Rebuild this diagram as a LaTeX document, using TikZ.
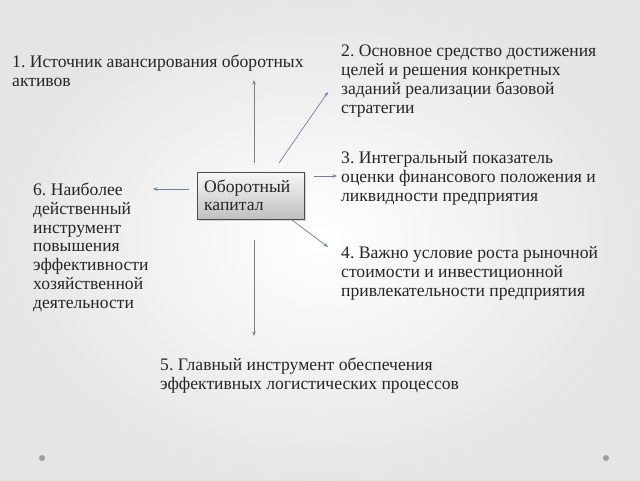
\documentclass[tikz,border=0pt]{standalone}
\usepackage{fontspec}
\setmainfont{Liberation Serif}
\frenchspacing
\usetikzlibrary{arrows.meta,shadows}
\definecolor{arrowc}{HTML}{6F7FA6}
\definecolor{txt}{HTML}{262626}
\tikzset{
  lbl/.style={anchor=base west, inner sep=0pt, align=left, text=txt,
    font=\fontsize{17.6}{18.7}\selectfont\frenchspacing},
  conn/.style={draw=arrowc, line width=0.7pt, -{Stealth[length=4.5pt,width=3.5pt]}},
  centerbox/.style={draw=gray!60!black, line width=0.8pt, top color=gray!6, bottom color=gray!50,
    minimum width=107pt, minimum height=47pt, inner sep=0pt,
    drop shadow={shadow xshift=2pt, shadow yshift=-2pt, opacity=0.3}},
  dot/.style={circle, fill=gray!75, inner sep=0pt, minimum size=6pt}
}
\begin{document}
\begin{tikzpicture}[x=1pt,y=-1pt]
\shade[inner color=white, outer color=gray!20] (0,0) rectangle (640,480);
\useasboundingbox (0,0) rectangle (640,480);
% center box
\node[centerbox] (box) at (250.5,195.5) {};
\node[lbl, font=\fontsize{17.6}{17.5}\selectfont] (boxtxt) at (204,210) {Оборотный\\капитал};
% labels (anchor at last line's baseline)
\node[lbl] (t1) at (12,86) {1. Источник авансирования оборотных\\активов};
\node[lbl] (t2) at (341,113) {2. Основное средство достижения\\целей и решения конкретных\\заданий реализации базовой\\стратегии};
\node[lbl] (t3) at (341,201) {3. Интегральный показатель\\оценки финансового положения и\\ликвидности предприятия};
\node[lbl] (t4) at (341,296) {4. Важно условие роста рыночной\\стоимости и инвестиционной\\привлекательности предприятия};
\node[lbl] (t5) at (160,389) {5. Главный инструмент обеспечения\\эффективных логистических процессов};
\node[lbl] (t6) at (33,308) {6. Наиболее\\действенный\\инструмент\\повышения\\эффективности\\хозяйственной\\деятельности};
% connector endpoints
\coordinate (uS) at (254,163); \coordinate (uE) at (254,80);
\coordinate (dS) at (279,163); \coordinate (dE) at (328,92);
\coordinate (rS) at (314,176); \coordinate (rE) at (337,176);
\coordinate (drS) at (292,220); \coordinate (drE) at (328,247);
\coordinate (bS) at (254,240); \coordinate (bE) at (254,336);
\coordinate (lS) at (189,189); \coordinate (lE) at (153,189);
\draw[conn] (uS) -- (uE);
\draw[conn] (dS) -- (dE);
\draw[conn] (rS) -- (rE);
\draw[conn] (drS) -- (drE);
\draw[conn] (bS) -- (bE);
\draw[conn] (lS) -- (lE);
% dots
\node[dot] (p1) at (42,458) {};
\node[dot] (p2) at (606,458) {};
\end{tikzpicture}
\end{document}
